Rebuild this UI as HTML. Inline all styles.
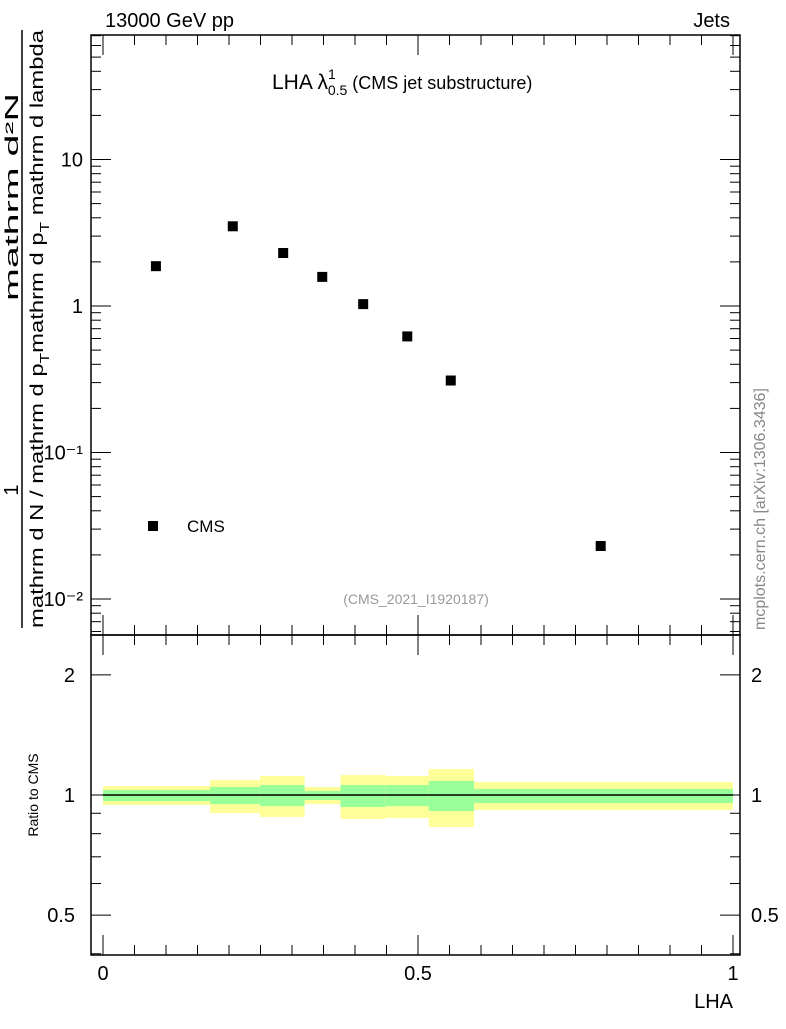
<!DOCTYPE html>
<html><head><meta charset="utf-8"><style>
body{margin:0;background:#fff;}
svg text{font-family:"Liberation Sans",sans-serif;}
</style></head><body>
<svg id="c" width="786" height="1024" xmlns="http://www.w3.org/2000/svg">
<text x="105" y="27" font-size="20">13000 GeV pp</text>
<text x="730" y="27" font-size="20" text-anchor="end">Jets</text>
<text x="272" y="89" font-size="21">LHA λ<tspan font-size="14" dy="-10">1</tspan><tspan font-size="14" dx="-8" dy="16">0.5</tspan><tspan font-size="18" dy="-6"> (CMS jet substructure)</tspan></text>
<text x="416" y="604" font-size="14" fill="#999" text-anchor="middle">(CMS_2021_I1920187)</text>
<text transform="translate(765,630) rotate(-90)" font-size="16" fill="#888">mcplots.cern.ch [arXiv:1306.3436]</text>
<text x="733" y="1008" font-size="20" text-anchor="end">LHA</text>
<text transform="translate(38,795) rotate(-90)" font-size="14" text-anchor="middle">Ratio to CMS</text>
<g font-size="18">
<text transform="translate(18,197) rotate(-90)" text-anchor="middle" textLength="208" lengthAdjust="spacingAndGlyphs">mathrm d²N</text>
<line x1="22" y1="30" x2="22" y2="628" stroke="#000" stroke-width="1.5"/>
<text transform="translate(18,490) rotate(-90)" text-anchor="middle" font-size="20">1</text>
<text transform="translate(43,628) rotate(-90)" textLength="598" lengthAdjust="spacingAndGlyphs">mathrm d N / mathrm d p<tspan dy="6" font-size="13">T</tspan><tspan dy="-6">mathrm d p</tspan><tspan dy="6" font-size="13">T</tspan><tspan dy="-6"> mathrm d lambda</tspan></text>
</g>
<g id="g"></g>
</svg>
<script>
const xs=[0.084,0.206,0.286,0.348,0.413,0.483,0.552,0.79];
const vals=[1.87,3.5,2.3,1.58,1.03,0.62,0.31,0.023];
const edges=[0,0.17,0.249,0.32,0.377,0.449,0.517,0.589,1.0];
const yelHi=[1.053,1.090,1.116,1.047,1.122,1.116,1.162,1.078];
const yelLo=[0.944,0.901,0.881,0.949,0.871,0.876,0.831,0.917];
const grnHi=[1.029,1.047,1.059,1.023,1.059,1.059,1.084,1.035];
const grnLo=[0.966,0.949,0.938,0.972,0.933,0.938,0.912,0.955];
const mainTicks=[10,1,0.1,0.01];
const mainTickLabels=["10","1","10⁻¹","10⁻²"];
const ratioTicks=[2,1,0.5];
const ratioTickLabels=["2","1","0.5"];
const xTicks=[0,0.5,1];
const xTickLabels=["0","0.5","1"];
const NS="http://www.w3.org/2000/svg",g=document.getElementById('g');
const L=91,R=740,T=35,M=635,B=955;
const X=v=>103+v*630;
const Y=v=>306-Math.log10(v)*146.5;
const YR=v=>795-Math.log10(v)*399;
function el(t,a,nm){const e=document.createElementNS(NS,t);for(const k in a)e.setAttribute(k,a[k]);


g.appendChild(e);return e;}
for(let i=0;i<xs.length;i++){
 el('rect',{x:X(edges[i]),y:YR(yelHi[i]),width:X(edges[i+1])-X(edges[i]),height:YR(yelLo[i])-YR(yelHi[i]),fill:'#ffff99'},'yellow-band');
 el('rect',{x:X(edges[i]),y:YR(grnHi[i]),width:X(edges[i+1])-X(edges[i]),height:YR(grnLo[i])-YR(grnHi[i]),fill:'#99ff99'},'green-band');
}
el('line',{x1:X(0),x2:X(1),y1:YR(1),y2:YR(1),stroke:'#000','stroke-width':1.5},'ratio-line');
el('rect',{x:L,y:T,width:R-L,height:M-T,fill:'none',stroke:'#000','stroke-width':1.5},'main-frame');
el('rect',{x:L,y:M,width:R-L,height:B-M,fill:'none',stroke:'#000','stroke-width':1.5},'ratio-frame');
for(let d=-3;d<=1;d++)for(let m=1;m<10;m++){const v=m*Math.pow(10,d),y=Y(v);if(y<T||y>M)continue;const len=m==1?20:10;
 el('line',{x1:L,x2:L+len,y1:y,y2:y,stroke:'#000'},'y-tick');el('line',{x1:R,x2:R-len,y1:y,y2:y,stroke:'#000'},'y-tick');}
mainTicks.forEach((v,i)=>{const t=el('text',{x:L-8,y:Y(v)+7,'font-size':20,'text-anchor':'end'},'y-tick-label');t.textContent=mainTickLabels[i];});
[0.4,0.5,0.6,0.7,0.8,0.9,1,2].forEach(v=>{const y=YR(v);const len=(v==1||v==2||v==0.5)?20:10;
 el('line',{x1:L,x2:L+len,y1:y,y2:y,stroke:'#000'},'ratio-tick');el('line',{x1:R,x2:R-len,y1:y,y2:y,stroke:'#000'},'ratio-tick');});
ratioTicks.forEach((v,i)=>{const t=el('text',{x:75,y:YR(v)+7,'font-size':20,'text-anchor':'end'},'ratio-tick-label');t.textContent=ratioTickLabels[i];
 const t2=el('text',{x:751,y:YR(v)+7,'font-size':20},'ratio-tick-label-right');t2.textContent=ratioTickLabels[i];});
for(let k=0;k<=20;k++){const v=k*0.05,x=X(v);if(x>R)continue;const len=k%10==0?20:10;
 [[M,1],[B,-1],[T,1],[M,-1]].forEach(([y0,s])=>el('line',{x1:x,x2:x,y1:y0,y2:y0+s*len,stroke:'#000'},'x-tick'));}
xTicks.forEach((v,i)=>{const t=el('text',{x:X(v),y:980,'font-size':20,'text-anchor':'middle'},'x-tick-label');t.textContent=xTickLabels[i];});
xs.forEach((v,i)=>el('rect',{x:X(v)-5,y:Y(vals[i])-5,width:10,height:10,fill:'#000'},'cms-point'));
el('rect',{x:148,y:521,width:10,height:10,fill:'#000'},'legend-marker');
const lt=el('text',{x:187,y:532,'font-size':17},'legend-label');lt.textContent='CMS';
</script>
</body></html>
